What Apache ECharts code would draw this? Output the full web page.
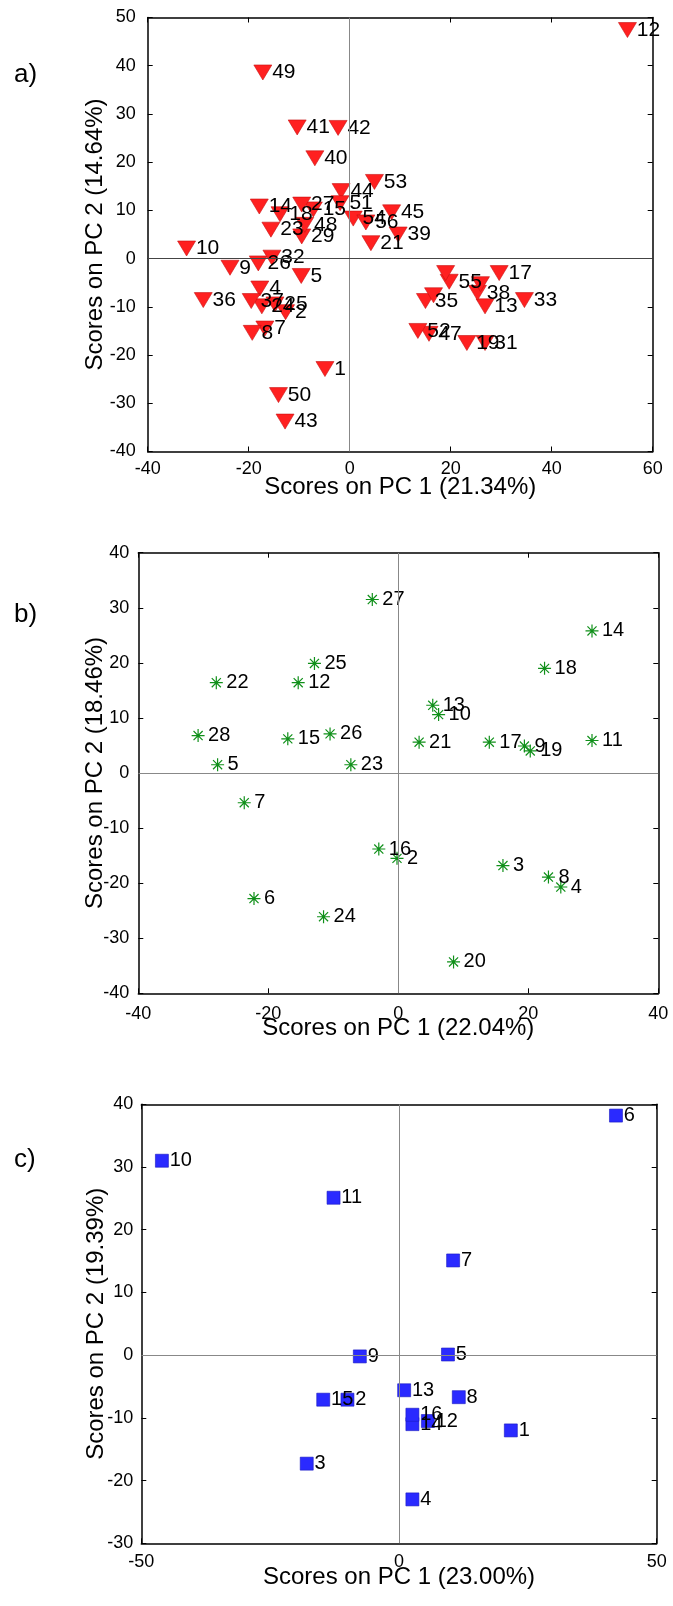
<!DOCTYPE html>
<html>
<head>
<meta charset="utf-8">
<script src="https://cdn.jsdelivr.net/npm/echarts@6/dist/echarts.min.js"></script>
<style>
  html, body { margin: 0; padding: 0; background: #fff; }
  #chart { width: 673px; height: 1606px; }
</style>
</head>
<body>
<div id="chart"></div>
<script>
// panel a) scores
const aLabels = ['1','2','4','5','7','8','9','10','12','13','14','15','17','18','19','21','23','24','25','26','27','29','31','32','33','35','36','37','38','39','40','41','42','43','44','45','47','48','49','50','51','52','53','54','55','56','','',''];
const aPC1 = [-4.9,-12.7,-17.8,-9.6,-16.8,-19.3,-23.7,-32.3,55.0,26.8,-17.9,-7.2,29.6,-13.8,23.2,4.2,-15.6,-17.4,-14.8,-18.1,-9.5,-9.5,26.8,-15.4,34.6,15.0,-29.0,-19.5,25.3,9.6,-6.9,-10.4,-2.3,-12.8,-1.7,8.3,15.7,-8.9,-17.2,-14.1,-1.9,13.5,4.9,0.7,19.7,3.2,19.0,25.9,16.6];
const aPC2 = [-22.9,-11.1,-6.2,-3.6,-14.5,-15.4,-1.9,2.1,47.4,-9.9,10.8,10.2,-3.0,9.2,-17.5,3.2,6.0,-9.9,-9.5,-1.0,11.2,4.6,-17.5,0.2,-8.6,-8.8,-8.6,-8.8,-7.1,5.0,20.8,27.2,27.1,-33.8,14.0,9.6,-15.6,7.0,38.6,-28.3,11.5,-15.0,15.9,8.3,-4.8,7.5,-3.0,-5.3,-7.6];

// panel b) scores
const bLabels = ['2','3','4','5','6','7','8','9','10','11','12','13','14','15','16','17','18','19','20','21','22','23','24','25','26','27','28'];
const bPC1 = [-0.2,16.1,25.0,-27.8,-22.2,-23.7,23.1,19.4,6.2,29.8,-15.4,5.3,29.8,-17.0,-3.0,14.0,22.5,20.3,8.5,3.2,-28.0,-7.3,-11.5,-12.9,-10.5,-4.0,-30.8];
const bPC2 = [-15.5,-16.8,-20.7,1.5,-22.8,-5.4,-18.9,4.9,10.6,5.9,16.4,12.3,25.8,6.2,-13.8,5.6,19.0,4.0,-34.3,5.6,16.4,1.5,-26.1,19.9,7.1,31.5,6.8];

// panel c) scores
const cLabels = ['1','2','3','4','5','6','7','8','9','10','11','12','13','14','15','16'];
const cPC1 = [21.7,-10.0,-17.9,2.6,9.5,42.1,10.5,11.6,-7.6,-46.0,-12.7,5.6,1.0,2.6,-14.7,2.6];
const cPC2 = [-12.0,-7.1,-17.3,-23.0,0.1,38.2,15.1,-6.7,-0.2,31.0,25.1,-10.5,-5.6,-11.0,-7.1,-9.5];

// axis ranges [min, max, step]
const aXRange = [-40, 60, 20], aYRange = [-40, 50, 10];
const bXRange = [-40, 40, 20], bYRange = [-40, 40, 10];
const cXRange = [-50, 50, 50], cYRange = [-30, 40, 10];

const aTitles = ['Scores on PC 1 (21.34%)', 'Scores on PC 2 (14.64%)'];
const bTitles = ['Scores on PC 1 (22.04%)', 'Scores on PC 2 (18.46%)'];
const cTitles = ['Scores on PC 1 (23.00%)', 'Scores on PC 2 (19.39%)'];

const FONT = '"Liberation Sans", Arial, sans-serif';

const chart = echarts.init(document.getElementById('chart'));

function axisBase(g, range) {
  return {
    gridIndex: g, type: 'value', min: range[0], max: range[1], interval: range[2],
    splitLine: { show: false },
    axisLine: { onZero: false, lineStyle: { color: '#000', width: 1.5 } },
    axisTick: { inside: true, length: 5, lineStyle: { color: '#000', width: 1 } }
  };
}

function xAxes(g, range, title, margin, gap) {
  return [
    Object.assign(axisBase(g, range), {
      position: 'bottom', name: title, nameLocation: 'middle', nameGap: gap, nameMoveOverlap: false,
      nameTextStyle: { color: '#000', fontSize: 24, fontFamily: FONT },
      axisLabel: { color: '#000', fontSize: 18, fontFamily: FONT, margin: margin }
    }),
    Object.assign(axisBase(g, range), { position: 'top', axisLabel: { show: false } })
  ];
}

function yAxes(g, range, title, margin, gap) {
  return [
    Object.assign(axisBase(g, range), {
      position: 'left', name: title, nameLocation: 'middle', nameGap: gap, nameMoveOverlap: false,
      nameTextStyle: { color: '#000', fontSize: 24, fontFamily: FONT },
      axisLabel: { color: '#000', fontSize: 18, fontFamily: FONT, margin: margin }
    }),
    Object.assign(axisBase(g, range), { position: 'right', axisLabel: { show: false } })
  ];
}

function points(xs, ys, labels) {
  return xs.map((x, i) => ({ value: [x, ys[i]], name: labels[i] }));
}

function zeroLines(g, hColor, vColor) {
  return {
    type: 'line', xAxisIndex: g * 2, yAxisIndex: g * 2, data: [], z: 1,
    markLine: {
      silent: true, symbol: 'none', label: { show: false },
      data: [
        { xAxis: 0, lineStyle: { color: vColor, width: 1, type: 'solid' } },
        { yAxis: 0, lineStyle: { color: hColor, width: 1, type: 'solid' } }
      ]
    }
  };
}

function scatter(g, data, symbol, size, style, fontSize, dist, extra) {
  return Object.assign({
    type: 'scatter', xAxisIndex: g * 2, yAxisIndex: g * 2, z: 3,
    data: data, symbol: symbol, symbolSize: size,
    itemStyle: Object.assign({ opacity: 1 }, style),
    label: {
      show: true, position: 'right', distance: dist, formatter: '{b}',
      color: '#000', fontSize: fontSize, fontFamily: FONT
    },
    emphasis: { disabled: true }
  }, extra || {});
}

const ASTERISK = 'path://M0,-10L0,10M-10,0L10,0M-7,-7L7,7M-7,7L7,-7';

const option = {
  animation: false,
  backgroundColor: '#fff',
  grid: [
    { left: 147.7, top: 17.5, width: 505, height: 434 },
    { left: 138.3, top: 552.7, width: 520, height: 440.6 },
    { left: 141.3, top: 1104.3, width: 515.4, height: 439 }
  ],
  xAxis: [].concat(
    xAxes(0, aXRange, aTitles[0], 9, 24),
    xAxes(1, bXRange, bTitles[0], 12, 23),
    xAxes(2, cXRange, cTitles[0], 10, 22)
  ),
  yAxis: [].concat(
    yAxes(0, aYRange, aTitles[1], 12, 40),
    yAxes(1, bYRange, bTitles[1], 9, 31),
    yAxes(2, cYRange, cTitles[1], 8, 33)
  ),
  graphic: [
    { type: 'text', left: 14, top: 62, style: { text: 'a)', fontSize: 26, fontFamily: FONT, fill: '#000' } },
    { type: 'text', left: 14, top: 602, style: { text: 'b)', fontSize: 26, fontFamily: FONT, fill: '#000' } },
    { type: 'text', left: 14, top: 1147, style: { text: 'c)', fontSize: 26, fontFamily: FONT, fill: '#000' } }
  ],
  series: [
    zeroLines(0, '#444', '#888'),
    zeroLines(1, '#888', '#888'),
    zeroLines(2, '#888', '#888'),
    scatter(0, points(aPC1, aPC2, aLabels), 'triangle', [18, 15],
      { color: '#ff2020', borderColor: '#c81010', borderWidth: 0.6 }, 21, 0, { symbolRotate: 180 }),
    scatter(1, points(bPC1, bPC2, bLabels), ASTERISK, 13,
      { color: 'none', borderColor: '#10901a', borderWidth: 1.2 }, 20, 1),
    scatter(2, points(cPC1, cPC2, cLabels), 'rect', 13,
      { color: '#2a2aff', borderColor: '#1818c0', borderWidth: 0.6 }, 20, 1)
  ]
};

chart.setOption(option);
</script>
</body>
</html>
